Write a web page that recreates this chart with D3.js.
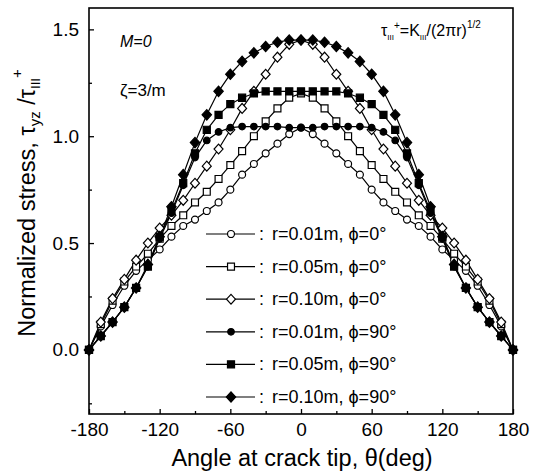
<!DOCTYPE html>
<html>
<head>
<meta charset="utf-8">
<script src="https://cdn.jsdelivr.net/npm/d3@7"></script>
<style>
    body { margin: 0; background: #fff; }
    svg { display: block; font-family: "Liberation Sans", Arial, sans-serif; }
</style>
</head>
<body>
<script>
// angle at crack tip, deg
const angles = [-180, -170, -160, -150, -140, -130, -120, -110, -100, -90, -80, -70, -60, -50, -40, -30, -20, -10,
    0, 10, 20, 30, 40, 50, 60, 70, 80, 90, 100, 110, 120, 130, 140, 150, 160, 170, 180];

// normalized stress, one array per curve
const r001phi0 = [0, 0.11, 0.21, 0.30, 0.37, 0.42, 0.47, 0.53, 0.58, 0.61, 0.65, 0.69, 0.75, 0.82, 0.87, 0.92, 0.965, 1.01,
    1.04, 1.01, 0.965, 0.92, 0.87, 0.82, 0.75, 0.69, 0.65, 0.61, 0.58, 0.53, 0.47, 0.42, 0.37, 0.30, 0.21, 0.11, 0];
const r005phi0 = [0, 0.12, 0.23, 0.32, 0.39, 0.45, 0.52, 0.58, 0.63, 0.69, 0.74, 0.80, 0.865, 0.93, 1.00, 1.07, 1.13, 1.18,
    1.20, 1.18, 1.13, 1.07, 1.00, 0.93, 0.865, 0.80, 0.74, 0.69, 0.63, 0.58, 0.52, 0.45, 0.39, 0.32, 0.23, 0.12, 0];
const r010phi0 = [0, 0.13, 0.24, 0.33, 0.42, 0.50, 0.57, 0.63, 0.70, 0.78, 0.86, 0.94, 1.03, 1.13, 1.21, 1.29, 1.37, 1.43,
    1.45, 1.43, 1.37, 1.29, 1.21, 1.13, 1.03, 0.94, 0.86, 0.78, 0.70, 0.63, 0.57, 0.50, 0.42, 0.33, 0.24, 0.13, 0];
const r001phi90 = [0, 0.065, 0.13, 0.20, 0.29, 0.39, 0.52, 0.64, 0.77, 0.90, 0.98, 1.02, 1.04, 1.045, 1.045, 1.045, 1.045, 1.04,
    1.04, 1.04, 1.045, 1.045, 1.045, 1.045, 1.04, 1.02, 0.98, 0.90, 0.77, 0.64, 0.52, 0.39, 0.29, 0.20, 0.13, 0.065, 0];
const r005phi90 = [0, 0.065, 0.13, 0.20, 0.29, 0.39, 0.53, 0.65, 0.78, 0.92, 1.03, 1.10, 1.15, 1.18, 1.20, 1.21, 1.21, 1.21,
    1.21, 1.21, 1.21, 1.21, 1.20, 1.18, 1.15, 1.10, 1.03, 0.92, 0.78, 0.65, 0.53, 0.39, 0.29, 0.20, 0.13, 0.065, 0];
const r010phi90 = [0, 0.065, 0.13, 0.20, 0.29, 0.40, 0.53, 0.67, 0.82, 0.97, 1.10, 1.21, 1.29, 1.35, 1.39, 1.42, 1.44, 1.45,
    1.45, 1.45, 1.44, 1.42, 1.39, 1.35, 1.29, 1.21, 1.10, 0.97, 0.82, 0.67, 0.53, 0.40, 0.29, 0.20, 0.13, 0.065, 0];

const legendLabels = ["r=0.01m, \u03d5=0\u00b0", "r=0.05m, \u03d5=0\u00b0", "r=0.10m, \u03d5=0\u00b0",
    "r=0.01m, \u03d5=90\u00b0", "r=0.05m, \u03d5=90\u00b0", "r=0.10m, \u03d5=90\u00b0"];

const xTicks = [-180, -120, -60, 0, 60, 120, 180];
const xMinor = [-150, -90, -30, 30, 90, 150];
const yTicks = [0, 0.5, 1.0, 1.5];
const yMinor = [-0.25, 0.25, 0.75, 1.25];

const width = 536;
const height = 473;
let margin = { top: 8, right: 23, bottom: 59, left: 89 };

let svg = d3.select("body")
    .append("svg")
    .attr("width", width)
    .attr("height", height);

svg.append("rect").attr("width", width).attr("height", height).attr("fill", "#fff");

let xScale = d3.scaleLinear()
    .domain([-180, 180])
    .range([margin.left, width - margin.right]);

let yScale = d3.scaleLinear()
    .domain([-0.3, 1.6])
    .range([height - margin.bottom, margin.top]);

// diamond marker, about as wide as tall
const diamond = {
    draw(ctx, size) {
        let r = Math.sqrt(size / 2);
        ctx.moveTo(0, -r * 1.1);
        ctx.lineTo(r, 0);
        ctx.lineTo(0, r * 1.1);
        ctx.lineTo(-r, 0);
        ctx.closePath();
    }
};

let series = [
    { values: r001phi0, type: d3.symbolCircle, size: 38, fill: "#fff" },
    { values: r005phi0, type: d3.symbolSquare, size: 48, fill: "#fff" },
    { values: r010phi0, type: diamond, size: 40, fill: "#fff" },
    { values: r001phi90, type: d3.symbolCircle, size: 34, fill: "#000" },
    { values: r005phi90, type: d3.symbolSquare, size: 50, fill: "#000" },
    { values: r010phi90, type: diamond, size: 44, fill: "#000" }
];

// axes, ticks pointing inward
let bottomContainer = svg.append("g")
    .attr("transform", `translate(0, ${height - margin.bottom})`);
bottomContainer.call(d3.axisBottom(xScale).tickValues(xTicks).tickSize(-5).tickPadding(9).tickFormat(d => `${d}`));
bottomContainer.append("g").call(d3.axisBottom(xScale).tickValues(xMinor).tickSize(-3).tickFormat(""));

let leftContainer = svg.append("g")
    .attr("transform", `translate(${margin.left}, 0)`);
leftContainer.call(d3.axisLeft(yScale).tickValues(yTicks).tickSize(-5).tickPadding(10).tickFormat(d => d.toFixed(1)));
leftContainer.append("g").call(d3.axisLeft(yScale).tickValues(yMinor).tickSize(-3).tickFormat(""));

svg.selectAll(".domain").remove();
svg.selectAll(".tick line").attr("stroke", "#000").attr("stroke-width", 1.3);
svg.selectAll(".tick text")
    .attr("fill", "#000")
    .style("font-size", "19px")
    .style("font-family", "'Liberation Sans', Arial, sans-serif");

svg.append("rect")
    .attr("x", margin.left)
    .attr("y", margin.top)
    .attr("width", width - margin.left - margin.right)
    .attr("height", height - margin.top - margin.bottom)
    .attr("fill", "none")
    .attr("stroke", "#000")
    .attr("stroke-width", 1.6);

// curves
let line = d3.line()
    .x((d, i) => xScale(angles[i]))
    .y(d => yScale(d));

series.forEach(s => {
    svg.append("path")
        .attr("d", line(s.values))
        .attr("fill", "none")
        .attr("stroke", "#000")
        .attr("stroke-width", 1.2);
});

series.forEach(s => {
    svg.append("g")
        .selectAll("path")
        .data(s.values)
        .join("path")
        .attr("transform", (d, i) => `translate(${xScale(angles[i])}, ${yScale(d)})`)
        .attr("d", d3.symbol().type(s.type).size(s.size))
        .attr("fill", s.fill)
        .attr("stroke", "#000")
        .attr("stroke-width", 1.2);
});

// legend
let legend = svg.append("g");
legendLabels.forEach((label, i) => {
    let y = 234 + i * 32.6;
    let s = series[i];
    legend.append("line")
        .attr("x1", 206).attr("x2", 255)
        .attr("y1", y).attr("y2", y)
        .attr("stroke", "#000").attr("stroke-width", 1.2);
    legend.append("path")
        .attr("transform", `translate(231, ${y})`)
        .attr("d", d3.symbol().type(s.type).size(s.size))
        .attr("fill", s.fill)
        .attr("stroke", "#000")
        .attr("stroke-width", 1.2);
    legend.append("text")
        .attr("x", 259).attr("y", y + 6)
        .style("font-size", "18px")
        .text(":");
    legend.append("text")
        .attr("x", 272).attr("y", y + 6)
        .style("font-size", "18px")
        .text(label);
});

// annotations
svg.append("text")
    .attr("x", 120).attr("y", 47)
    .style("font-size", "16px")
    .style("font-style", "italic")
    .text("M=0");

svg.append("text")
    .attr("x", 120).attr("y", 96)
    .style("font-size", "17px")
    .text("\u03b6=3/m");

let formula = svg.append("text")
    .attr("x", 381).attr("y", 36)
    .style("font-size", "16px");
formula.append("tspan").text("\u03c4");
formula.append("tspan").attr("dy", 4).style("font-size", "8px").text("III");
formula.append("tspan").attr("dy", -11).style("font-size", "10px").text("+");
formula.append("tspan").attr("dy", 7).text("=K");
formula.append("tspan").attr("dy", 4).style("font-size", "8px").text("III");
formula.append("tspan").attr("dy", -4).text("/(2\u03c0r)");
formula.append("tspan").attr("dy", -8).style("font-size", "10px").text("1/2");

// axis titles
svg.append("text")
    .attr("x", 302).attr("y", 466)
    .attr("text-anchor", "middle")
    .style("font-size", "23.5px")
    .text("Angle at crack tip, \u03b8(deg)");

let yTitle = svg.append("text")
    .attr("transform", "translate(35, 203) rotate(-90)")
    .attr("text-anchor", "middle")
    .style("font-size", "23.5px");
yTitle.append("tspan").text("Normalized stress, \u03c4");
yTitle.append("tspan").attr("dy", 5).style("font-size", "15px").text("yz");
yTitle.append("tspan").attr("dy", -5).text(" /\u03c4");
yTitle.append("tspan").attr("dy", 5).style("font-size", "13px").text("III");
yTitle.append("tspan").attr("dy", -18).style("font-size", "15px").text("+");
</script>
</body>
</html>
